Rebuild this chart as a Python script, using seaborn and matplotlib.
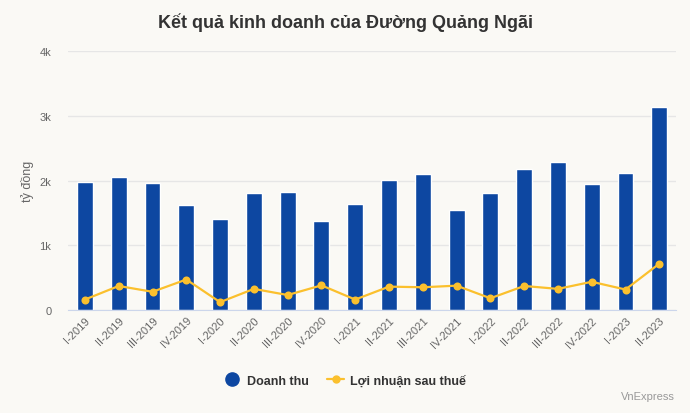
import matplotlib
matplotlib.use("Agg")
import matplotlib.pyplot as plt
from matplotlib.lines import Line2D
from matplotlib.ticker import FuncFormatter
import pandas as pd
import seaborn as sns

# Kết quả kinh doanh theo quý (tỷ đồng)
quy = ['I-2019', 'II-2019', 'III-2019', 'IV-2019',
       'I-2020', 'II-2020', 'III-2020', 'IV-2020',
       'I-2021', 'II-2021', 'III-2021', 'IV-2021',
       'I-2022', 'II-2022', 'III-2022', 'IV-2022',
       'I-2023', 'II-2023']
doanh_thu = [1985, 2060, 1955, 1615, 1410, 1815, 1830, 1380,
             1630, 2015, 2095, 1550, 1800, 2185, 2280, 1940, 2110, 3130]
loi_nhuan = [160, 370, 280, 470, 120, 325, 230, 380,
             160, 360, 350, 375, 180, 370, 325, 435, 315, 715]
y_ticks = [0, 1000, 2000, 3000, 4000]

df = pd.DataFrame({'Quy': quy, 'Doanh thu': doanh_thu, 'Loi nhuan': loi_nhuan})

xanh = '#0d47a1'
vang = '#fbc02d'
nen = '#faf9f5'

sns.set_style('white')
plt.rcParams['font.family'] = ['Liberation Sans', 'DejaVu Sans']

fig = plt.figure(figsize=(6.9, 4.14), dpi=100, facecolor=nen)
ax = fig.add_axes([0.0986, 0.249, 0.8814, 0.625])
ax.set_facecolor(nen)

sns.barplot(data=df, x='Quy', y='Doanh thu', color=xanh, width=0.47,
            saturation=1, ax=ax, zorder=2)
sns.pointplot(data=df, x='Quy', y='Loi nhuan', color=vang, markers='o',
              markersize=4.6, linewidth=1.6, ax=ax, zorder=3)

ax.set_ylim(0, 4000)
ax.set_xlim(-0.5, len(quy) - 0.5)
ax.set_yticks(y_ticks)
ax.yaxis.set_major_formatter(FuncFormatter(lambda v, p: '0' if v == 0 else f'{int(v/1000)}k'))
ax.grid(axis='y', color='#e6e6e6', linewidth=1, zorder=0)
ax.set_axisbelow(True)
for s in ['top', 'right', 'left']:
    ax.spines[s].set_visible(False)
ax.spines['bottom'].set_color('#ccd6eb')
ax.tick_params(axis='both', length=0, colors='#666666', labelsize=8)
ax.tick_params(axis='y', pad=12)
plt.setp(ax.get_xticklabels(), rotation=45, ha='right', rotation_mode='anchor')
ax.set_xlabel('')
ax.set_ylabel('tỷ đồng', color='#666666', fontsize=9, labelpad=4)

fig.text(0.5, 0.945, 'Kết quả kinh doanh của Đường Quảng Ngãi', ha='center', va='center',
         fontsize=13, fontweight='bold', color='#333333')

handles = [Line2D([], [], marker='o', linestyle='', color=xanh, markersize=9.5),
           Line2D([], [], marker='o', linestyle='-', color=vang, markersize=5, linewidth=1.6)]
fig.legend(handles, ['Doanh thu', 'Lợi nhuận sau thuế'], loc='center', bbox_to_anchor=(0.5, 0.078),
           ncol=2, frameon=False, handlelength=1.3, handletextpad=0.5, columnspacing=1.5,
           prop={'weight': 'bold', 'size': 9}, labelcolor='#333333')

fig.text(0.978, 0.04, 'VnExpress', ha='right', va='center', fontsize=8, color='#999999')

fig.savefig('out.png', dpi=100, facecolor=nen)
